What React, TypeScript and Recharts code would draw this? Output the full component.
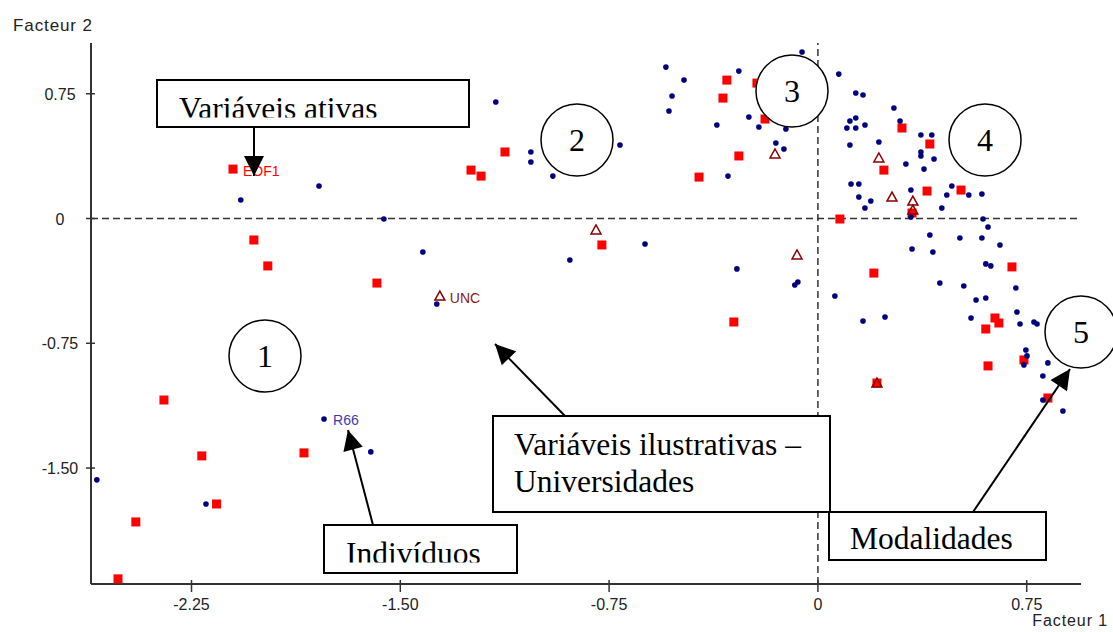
import React from 'react';
import { ScatterChart, Scatter, XAxis, YAxis, ReferenceLine } from 'recharts';

// Facteur 1 / Facteur 2 coordinates
const individuos: [number, number][] = [
  [-1.774, -1.205],
  [-2.073, 0.111], [-1.792, 0.195], [-1.559, -0.003], [-1.157, 0.7], [-1.031, 0.4],
  [-1.031, 0.34], [-0.952, 0.255], [-0.711, 0.442], [-0.546, 0.91], [-0.481, 0.832],
  [-0.524, 0.736], [-0.535, 0.646], [-0.284, 0.886], [-0.363, 0.562], [-0.248, 0.61],
  [-0.212, 0.55], [-0.115, 0.538], [-0.151, 0.454], [-0.122, 0.418], [-0.323, 0.255],
  [-0.621, -0.153], [-0.057, 1.001], [0.075, 0.868], [0.136, 0.754], [0.162, 0.742],
  [0.273, 0.664], [0.295, 0.586], [0.115, 0.586], [0.136, 0.604], [0.104, 0.544],
  [0.136, 0.544], [0.169, 0.562], [0.115, 0.442], [0.219, 0.46], [0.316, 0.328],
  [0.37, 0.502], [0.409, 0.502], [0.37, 0.4], [0.37, 0.376], [0.417, 0.358],
  [0.381, 0.297], [0.119, 0.207], [0.147, 0.207], [0.147, 0.129], [0.19, 0.105],
  [0.169, 0.063], [0.334, 0.171], [0.334, 0.009], [0.445, 0.063], [0.463, 0.141],
  [0.481, 0.195], [0.542, 0.141], [0.589, 0.147], [0.593, -0.003], [0.611, -0.051],
  [0.402, -0.099], [0.51, -0.117], [0.589, -0.117], [0.654, -0.159], [0.338, -0.183],
  [0.413, -0.201], [0.603, -0.273], [0.621, -0.285], [0.438, -0.388], [0.524, -0.406],
  [0.711, -0.418], [0.568, -0.49], [0.603, -0.478], [0.55, -0.598], [0.715, -0.562],
  [0.726, -0.634], [0.776, -0.622], [0.787, -0.634], [0.747, -0.79], [0.751, -0.826],
  [0.74, -0.88], [0.826, -0.868], [0.808, -0.947], [0.808, -1.091], [0.88, -1.157],
  [-0.083, -0.4], [-0.072, -0.382], [0.061, -0.466], [0.162, -0.616], [0.241, -0.592],
  [-1.419, -0.201], [-1.369, -0.514], [-0.891, -0.249], [-0.291, -0.303],
  [-1.606, -1.403], [-2.59, -1.571], [-2.198, -1.716],
];
const individuoLabels: Record<number, string> = { 0: 'R66' };

const modalidades: [number, number][] = [
  [-2.101, 0.297],
  [-2.026, -0.129], [-1.976, -0.285], [-1.584, -0.388], [-2.349, -1.091], [-1.846, -1.409],
  [-2.213, -1.427], [-2.16, -1.716], [-2.45, -1.824], [-2.514, -2.166], [-1.124, 0.4],
  [-1.246, 0.291], [-1.21, 0.255], [-0.327, 0.832], [-0.341, 0.724], [-0.219, 0.814],
  [-0.19, 0.598], [-0.284, 0.376], [-0.427, 0.249], [-0.776, -0.159], [-0.302, -0.622],
  [0.302, 0.544], [0.237, 0.291], [0.402, 0.448], [0.392, 0.165], [0.338, 0.033],
  [0.514, 0.171], [0.079, -0.003], [0.201, -0.328], [0.212, -0.989], [0.697, -0.291],
  [0.636, -0.598], [0.65, -0.628], [0.603, -0.664], [0.611, -0.886], [0.74, -0.85],
  [0.826, -1.079],
];
const modalidadeLabels: Record<number, string> = { 0: 'EOF1' };

const universidades: [number, number][] = [
  [-1.358, -0.466],
  [-0.154, 0.388], [-0.797, -0.069], [0.219, 0.364], [0.266, 0.129], [0.341, 0.105],
  [0.341, 0.051], [-0.075, -0.219], [0.212, -0.989],
];
const universidadeLabels: Record<number, string> = { 0: 'UNC' };

const xTicks = [-2.25, -1.5, -0.75, 0, 0.75];
const yTicks = [0.75, 0, -0.75, -1.5];

const toRows = (pts: [number, number][], labels: Record<number, string>) =>
  pts.map(([x, y], i) => ({ x, y, label: labels[i] || '' }));

const SANS = '"Liberation Sans", Arial, sans-serif';
const SERIF = '"Liberation Serif", "Times New Roman", serif';
const fmt = (v: number) => (v === 0 ? '0' : v.toFixed(2));

const XTick = ({ x, y, payload }: any) => (
  <g>
    <line x1={x} x2={x} y1={y - 4} y2={y + 8} stroke="#333" strokeWidth={1.5} />
    <text x={x} y={y + 26} textAnchor="middle" fontSize={16} fill="#222" fontFamily={SANS}>
      {fmt(payload.value)}
    </text>
  </g>
);

const YTick = ({ x, y, payload }: any) => (
  <g>
    <line x1={x - 5} x2={x + 4} y1={y} y2={y} stroke="#333" strokeWidth={1.5} />
    <text x={x - 31} y={y + 6} textAnchor="middle" fontSize={16} fill="#222" fontFamily={SANS}>
      {fmt(payload.value)}
    </text>
  </g>
);

const DotShape = (p: any) => (
  <g>
    <circle cx={p.cx} cy={p.cy} r={2.8} fill="#000080" />
    {p.payload.label && (
      <text x={p.cx + 9} y={p.cy + 6} fontSize={14} fill="#3b3bb0" fontFamily={SANS}>
        {p.payload.label}
      </text>
    )}
  </g>
);

const SquareShape = (p: any) => (
  <g>
    <rect x={p.cx - 4.5} y={p.cy - 4.5} width={9} height={9} fill="#ff0000" />
    {p.payload.label && (
      <text x={p.cx + 10} y={p.cy + 7} fontSize={14} fill="#ff0000" fontFamily={SANS}>
        {p.payload.label}
      </text>
    )}
  </g>
);

const TriangleShape = (p: any) => (
  <g>
    <polygon
      points={`${p.cx},${p.cy - 5} ${p.cx - 5},${p.cy + 4} ${p.cx + 5},${p.cy + 4}`}
      fill="none"
      stroke="#8b0000"
      strokeWidth={1.5}
    />
    {p.payload.label && (
      <text x={p.cx + 10} y={p.cy + 7} fontSize={14} fill="#8b1a1a" fontFamily={SANS}>
        {p.payload.label}
      </text>
    )}
  </g>
);

function Annotations() {
  const box = { fill: '#fff', stroke: '#000', strokeWidth: 2 };
  const circ = { fill: '#fff', stroke: '#000', strokeWidth: 1.5 };
  const big = { fontFamily: SERIF, fontSize: 31.5, fill: '#000' };
  const num = { fontFamily: SERIF, fontSize: 32, fill: '#000', textAnchor: 'middle' as const };
  const circles: [number, number, string][] = [
    [265, 356, '1'], [577, 140, '2'], [792, 91, '3'], [985, 140, '4'], [1081, 332, '5'],
  ];
  return (
    <svg width={1113} height={632} style={{ position: 'absolute', left: 0, top: 0, pointerEvents: 'none' }}>
      <defs>
        <marker id="head" viewBox="0 0 10 10" refX="10" refY="5" markerWidth="22" markerHeight="20"
          markerUnits="userSpaceOnUse" orient="auto">
          <path d="M0,0 L10,5 L0,10 z" fill="#000" />
        </marker>
        <clipPath id="clipA"><rect x={158} y={81} width={310} height={36.5} /></clipPath>
        <clipPath id="clipC"><rect x={325} y={526} width={191} height={36.5} /></clipPath>
      </defs>

      <text x={13} y={31} fontSize={17} letterSpacing={0.9} fill="#222" fontFamily={SANS}>Facteur 2</text>
      <text x={1108} y={626} fontSize={16} letterSpacing={0.9} textAnchor="end" fill="#222" fontFamily={SANS}>
        Facteur 1
      </text>

      {circles.map(([cx, cy, t]) => (
        <g key={t}>
          <circle cx={cx} cy={cy} r={36} {...circ} />
          <text x={cx} y={cy + 11} {...num}>{t}</text>
        </g>
      ))}

      <rect x={157} y={80} width={312} height={47} {...box} />
      <text x={179} y={119} {...big} clipPath="url(#clipA)">Variáveis ativas</text>
      <line x1={254} y1={127} x2={254} y2={176} stroke="#000" strokeWidth={2} markerEnd="url(#head)" />

      <rect x={493} y={416} width={337} height={96} {...box} />
      <text x={514} y={455} {...big}>Variáveis ilustrativas –</text>
      <text x={514} y={492} {...big}>Universidades</text>
      <line x1={565} y1={416} x2={495} y2={344} stroke="#000" strokeWidth={2} markerEnd="url(#head)" />

      <rect x={324} y={525} width={193} height={48} {...box} />
      <text x={346} y={564} {...big} clipPath="url(#clipC)">Indivíduos</text>
      <line x1={373} y1={525} x2={348} y2={430} stroke="#000" strokeWidth={2} markerEnd="url(#head)" />

      <rect x={829} y={512} width={217} height={48} {...box} />
      <text x={850} y={549} {...big}>Modalidades</text>
      <line x1={973} y1={512} x2={1070} y2={369} stroke="#000" strokeWidth={2} markerEnd="url(#head)" />
    </svg>
  );
}

export default function App() {
  const xDomain: [number, number] = [-2.611, 0.945];
  const yDomain: [number, number] = [-2.197, 1.055];
  return (
    <div style={{ position: 'absolute', left: 0, top: 0, width: 1113, height: 632, background: '#fff' }}>
      <ScatterChart width={1113} height={632} margin={{ top: 43, right: 32, bottom: 0, left: 0 }}>
        <XAxis
          dataKey="x"
          type="number"
          domain={xDomain}
          allowDataOverflow
          ticks={xTicks}
          interval={0}
          height={48}
          tickSize={0}
          tickMargin={0}
          tickLine={false}
          tick={<XTick />}
          axisLine={{ stroke: '#333', strokeWidth: 2 }}
        />
        <XAxis
          xAxisId="top"
          orientation="top"
          type="number"
          domain={xDomain}
          allowDataOverflow
          height={0}
          tick={false}
          tickLine={false}
          axisLine={{ stroke: '#333', strokeWidth: 2 }}
        />
        <YAxis
          dataKey="y"
          type="number"
          domain={yDomain}
          allowDataOverflow
          ticks={yTicks}
          interval={0}
          width={91}
          tickSize={0}
          tickMargin={0}
          tickLine={false}
          tick={<YTick />}
          axisLine={{ stroke: '#333', strokeWidth: 2 }}
        />
        <YAxis
          yAxisId="right"
          orientation="right"
          type="number"
          domain={yDomain}
          allowDataOverflow
          width={0}
          tick={false}
          tickLine={false}
          axisLine={{ stroke: '#333', strokeWidth: 2 }}
        />
        <ReferenceLine x={0} stroke="#333" strokeWidth={1.5} strokeDasharray="7 4" />
        <ReferenceLine y={0} stroke="#333" strokeWidth={1.5} strokeDasharray="7 4" />
        <Scatter data={toRows(modalidades, modalidadeLabels)} shape={SquareShape} isAnimationActive={false} />
        <Scatter data={toRows(individuos, individuoLabels)} shape={DotShape} isAnimationActive={false} />
        <Scatter data={toRows(universidades, universidadeLabels)} shape={TriangleShape} isAnimationActive={false} />
      </ScatterChart>
      <Annotations />
    </div>
  );
}
